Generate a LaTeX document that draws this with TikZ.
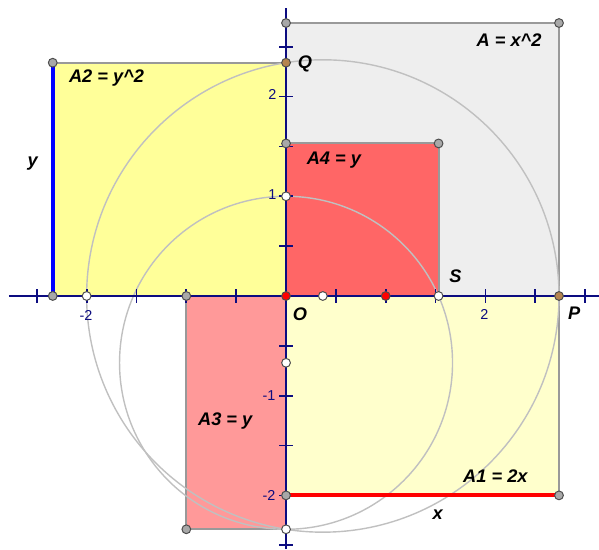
\documentclass[tikz,border=0pt]{standalone}
\usepackage{fontspec}
\setmainfont{Liberation Sans}
\definecolor{sqgray}{HTML}{EEEEEE}
\definecolor{yelA}{HTML}{FFFF99}
\definecolor{yelB}{HTML}{FFFFCC}
\definecolor{redA}{HTML}{FF6666}
\definecolor{pinkA}{HTML}{FF9999}
\definecolor{edgegray}{HTML}{999999}
\definecolor{circgray}{HTML}{C0C0C0}
\definecolor{axnavy}{HTML}{0C0C80}
\definecolor{ptgray}{HTML}{A8A8A8}
\definecolor{ptbrown}{HTML}{B5844F}
\begin{document}
\begin{tikzpicture}[x=1cm,y=1cm,
  edge/.style={draw=edgegray,line width=0.6pt},
  circ/.style={draw=circgray,line width=0.4pt},
  axline/.style={draw=axnavy,line width=0.55pt},
  axtick/.style={draw=axnavy,line width=0.5pt},
  axnum/.style={text=axnavy,font=\fontsize{4.1}{4.7}\selectfont,inner sep=0pt},
  lbl/.style={font=\fontsize{5.2}{6}\selectfont\bfseries\itshape,inner sep=0pt},
  pt/.style={circle,inner sep=0pt,minimum size=0.88mm,draw=black!70,line width=0.28pt},
  gpt/.style={pt,fill=ptgray},
  wpt/.style={pt,fill=white},
  rpt/.style={pt,fill=red},
  bpt/.style={pt,fill=ptbrown}]
\useasboundingbox (-2.869,-2.538) rectangle (3.139,2.969);
\pgfmathsetmacro{\vx}{2.738}
\pgfmathsetmacro{\vy}{2.340}
\pgfmathsetmacro{\vs}{1.530}
% key points
\coordinate (O) at (0,0);
\coordinate (P) at (\vx,0);
\coordinate (Q) at (0,\vy);
\coordinate (S) at (\vs,0);
\coordinate (TL) at (0,\vx);
\coordinate (TR) at (\vx,\vx);
\coordinate (A2a) at (-\vy,\vy);
\coordinate (A2b) at (-\vy,0);
\coordinate (A4a) at (0,\vs);
\coordinate (A4b) at (\vs,\vs);
\coordinate (A3a) at (-1,0);
\coordinate (A3b) at (-1,-\vy);
\coordinate (A3c) at (0,-\vy);
\coordinate (A1a) at (0,-2);
\coordinate (A1b) at (\vx,-2);
\coordinate (U) at (0,1);
\coordinate (M2) at (-2,0);
\coordinate (C1) at (0.369,0);
\coordinate (C2) at (0,-0.670);
\coordinate (R1) at (1,0);
% regions
\fill[sqgray] (O) rectangle (TR);
\draw[edge] (TL) -- (TR) -- (P);
\fill[yelA] (A2b) rectangle (Q);
\draw[edge] (A2a) -- (Q);
\fill[yelB] (O) rectangle (A1b);
\draw[edge] (P) -- (A1b);
\fill[pinkA] (A3a) rectangle (A3c);
\draw[edge] (A3a) -- (A3b) -- (A3c);
\fill[redA] (O) rectangle (A4b);
\draw[edge] (A4a) -- (A4b) -- (S);
% circles
\draw[circ] (C1) circle (2.369);
\draw[circ] (C2) circle (1.670);
% axes
\draw[axline] (-2.78,0) -- (3.139,0);
\draw[axline] (0,-2.538) -- (0,2.89);
\foreach \t in {-2.5,-2,-1.5,-1,-0.5,0.5,1,1.5,2,2.5,3}
  \draw[axtick] (\t,-0.067) -- (\t,0.067);
\foreach \t in {-2.5,-2,-1.5,-1,-0.5,0.5,1,1.5,2,2.5}
  \draw[axtick] (-0.07,\t) -- (0.07,\t);
\node[axnum] (nxm2) at (-2.006,-0.20) {-2};
\node[axnum] (nx2) at (1.99,-0.19) {2};
\node[axnum,anchor=east] (ny1) at (-0.09,1.015) {1};
\node[axnum,anchor=east] (ny2) at (-0.09,2.02) {2};
\node[axnum,anchor=east] (nym1) at (-0.10,-1.0) {-1};
\node[axnum,anchor=east] (nym2) at (-0.10,-2.0) {-2};
% thick segments
\draw[blue,line width=1.1pt] (A2b) -- (A2a);
\draw[red,line width=1.1pt] (A1a) -- (A1b);
% points
\foreach \p in {TL,TR,A2a,A2b,A4a,A4b,A3a,A3b,A1a,A1b}
  \node[gpt] at (\p) {};
\foreach \p in {U,S,M2,C1,C2,A3c}
  \node[wpt] at (\p) {};
\foreach \p in {O,R1}
  \node[rpt] at (\p) {};
\foreach \p in {P,Q}
  \node[bpt] at (\p) {};
% labels
\node[lbl] (lA) at (2.237,2.568) {A = x\textasciicircum 2};
\node[lbl] (lQ) at (0.19,2.33) {Q};
\node[lbl] (lA4) at (0.48,1.36) {A4 = y};
\node[lbl] (lA2) at (-1.80,2.19) {A2 = y\textasciicircum 2};
\node[lbl] (ly) at (-2.54,1.33) {y};
\node[lbl] (lS) at (1.70,0.20) {S};
\node[lbl] (lO) at (0.14,-0.18) {O};
\node[lbl] (lP) at (2.89,-0.17) {P};
\node[lbl] (lA3) at (-0.61,-1.25) {A3 = y};
\node[lbl] (lA1) at (2.10,-1.81) {A1 = 2x};
\node[lbl] (lx) at (1.52,-2.19) {x};
\end{tikzpicture}
\end{document}
